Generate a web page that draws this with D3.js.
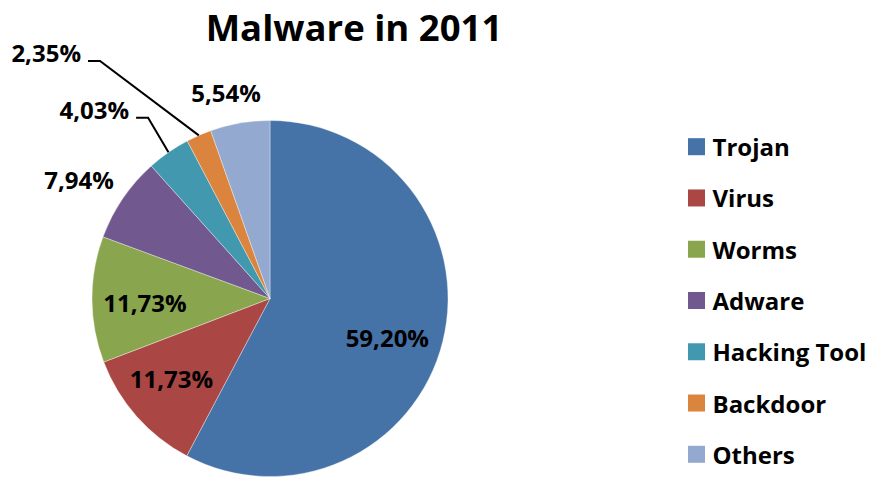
<!DOCTYPE html>
<html>
<head>
<meta charset="utf-8">
<script src="https://cdn.jsdelivr.net/npm/d3@7"></script>
<style>
  html, body { margin: 0; padding: 0; background: #fff; }
  svg { display: block; font-family: "Open Sans", Lato, sans-serif; font-weight: bold; }
</style>
</head>
<body>
<svg id="chart" width="877" height="477"></svg>
<script>
// Malware share by category, 2011
const categories = ["Trojan", "Virus", "Worms", "Adware", "Hacking Tool", "Backdoor", "Others"];
const shares = [59.20, 11.73, 11.73, 7.94, 4.03, 2.35, 5.54];
const shareLabels = ["59,20%", "11,73%", "11,73%", "7,94%", "4,03%", "2,35%", "5,54%"];
const sliceColors = ["#4572A7", "#AA4643", "#89A54E", "#71588F", "#4198AF", "#DB843D", "#93A9CF"];
const chartTitle = "Malware in 2011";

const svg = d3.select("#chart");

// pie geometry
const cx = 270, cy = 298.5, R = 178;
const labelFont = 24;

const data = categories.map((c, i) => ({ name: c, value: shares[i], label: shareLabels[i], color: sliceColors[i] }));

const pie = d3.pie().sort(null).value(d => d.value).startAngle(0).endAngle(2 * Math.PI);
const arcs = pie(data);
const arc = d3.arc().innerRadius(0).outerRadius(R);

const g = svg.append("g").attr("transform", `translate(${cx},${cy})`);

g.selectAll("path.slice")
  .data(arcs)
  .join("path")
  .attr("class", "slice")
  .attr("d", arc)
  .attr("fill", d => d.data.color)
  .attr("stroke", "#ffffff")
  .attr("stroke-opacity", 0.6)
  .attr("stroke-width", 0.6);

// label placement: inside the slice, outside next to the rim, or pulled out with a leader line
const placement = {
  "Trojan": { mode: "inside", nx: -4, ny: 9 },
  "Virus": { mode: "inside", nx: -5, ny: -3 },
  "Worms": { mode: "inside", nx: 0, ny: 3 },
  "Adware": { mode: "outside", nx: 0, ny: -3 },
  "Hacking Tool": { mode: "leader", elbowAngle: 326, elbowR: 218 },
  "Backdoor": { mode: "leader", elbowAngle: 324.4, elbowR: 292 },
  "Others": { mode: "outside", nx: -5, ny: -3 }
};

const polar = (angleRad, r) => [r * Math.sin(angleRad), -r * Math.cos(angleRad)];
const insideArc = d3.arc().innerRadius(125).outerRadius(125);

arcs.forEach(a => {
  const p = placement[a.data.name];
  const mid = (a.startAngle + a.endAngle) / 2;
  if (p.mode === "inside") {
    const [x, y] = insideArc.centroid(a);
    g.append("text")
      .attr("x", x + p.nx).attr("y", y + p.ny)
      .attr("text-anchor", "middle")
      .attr("dominant-baseline", "central")
      .attr("font-size", labelFont)
      .attr("fill", "#000")
      .text(a.data.label);
  } else if (p.mode === "outside") {
    const [px, py] = polar(mid, R + 18);
    const t = g.append("text")
      .attr("font-size", labelFont)
      .attr("fill", "#000")
      .attr("text-anchor", "middle")
      .attr("dominant-baseline", "central")
      .text(a.data.label);
    const bb = t.node().getBBox();
    const bx = px + (bb.width / 2) * Math.sin(mid) + p.nx;
    const by = py - (20 / 2) * Math.cos(mid) + p.ny;
    t.attr("x", bx).attr("y", by);
  } else {
    const [sx, sy] = polar(mid, R);
    const [ex, ey] = polar(p.elbowAngle * Math.PI / 180, p.elbowR);
    const hx = ex - 12;
    g.append("polyline")
      .attr("points", [[sx, sy], [ex, ey], [hx, ey]].map(q => q.join(",")).join(" "))
      .attr("fill", "none")
      .attr("stroke", "#000")
      .attr("stroke-width", 2);
    g.append("text")
      .attr("x", hx - 7).attr("y", ey + 1)
      .attr("text-anchor", "end")
      .attr("font-size", labelFont)
      .attr("fill", "#000")
      .text(a.data.label);
  }
});

// title
svg.append("text")
  .attr("x", 354).attr("y", 41)
  .attr("text-anchor", "middle")
  .attr("font-size", 36.5)
  .attr("fill", "#000")
  .text(chartTitle);

// legend
const legendY = d3.scalePoint().domain(categories).range([146.7, 454.3]);
const legend = svg.append("g").attr("transform", "translate(688,0)");
const rows = legend.selectAll("g.row")
  .data(data)
  .join("g")
  .attr("class", "row")
  .attr("transform", d => `translate(0,${legendY(d.name)})`);
rows.append("rect")
  .attr("x", 0).attr("y", -8.5)
  .attr("width", 17).attr("height", 17)
  .attr("fill", d => d.color);
rows.append("text")
  .attr("x", 24.5).attr("y", 0)
  .attr("dominant-baseline", "central")
  .attr("font-size", labelFont)
  .attr("fill", "#000")
  .text(d => d.name);
</script>
</body>
</html>
